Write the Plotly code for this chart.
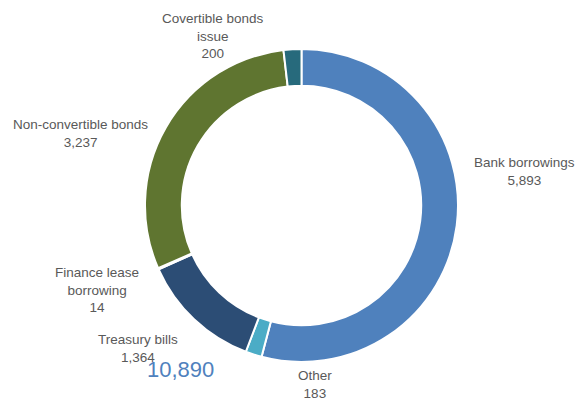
import plotly.graph_objects as go

# Data
categories = ["Bank borrowings", "Other", "Treasury bills", "Finance lease borrowing",
              "Non-convertible bonds", "Covertible bonds issue"]
label_text = ["Bank borrowings", "Other", "Treasury bills", "Finance lease<br>borrowing",
              "Non-convertible bonds", "Covertible bonds<br>issue"]
values = [5893, 183, 1364, 14, 3237, 200]
total_label = "10,890"

colors = ["#4F81BD", "#4BACC6", "#2C4D75", "#A5A5A5", "#5F7530", "#276A7C"]

W, H = 577, 401
# label centres in pixels (layout)
label_pos = [(524, 171), (315, 384), (138, 348), (97, 290), (80, 133), (213, 36)]

fig = go.Figure()
fig.add_trace(go.Pie(
    labels=categories, values=values, sort=False, direction="clockwise", rotation=0,
    hole=0.765, textinfo="none", hoverinfo="label+value",
    marker=dict(colors=colors, line=dict(color="white", width=2)),
    domain=dict(x=[145 / W, 458 / W], y=[(H - 362) / H, (H - 49) / H]),
    showlegend=False,
))

for txt, v, (px, py) in zip(label_text, values, label_pos):
    fig.add_annotation(
        x=px / W, y=1 - py / H, xref="paper", yref="paper",
        text=f"{txt}<br>{v:,}", showarrow=False, align="center",
        xanchor="center", yanchor="middle",
        font=dict(family="Liberation Sans, Arial, sans-serif", size=13.5, color="#595959"),
    )

fig.add_annotation(
    x=180 / W, y=1 - 369 / H, xref="paper", yref="paper", text=total_label,
    showarrow=False, xanchor="center", yanchor="middle",
    font=dict(family="Liberation Sans, Arial, sans-serif", size=22, color="#4F81BD"),
)

fig.update_layout(width=W, height=H, margin=dict(l=0, r=0, t=0, b=0),
                  paper_bgcolor="white", plot_bgcolor="white")
fig.write_html("out.html")
